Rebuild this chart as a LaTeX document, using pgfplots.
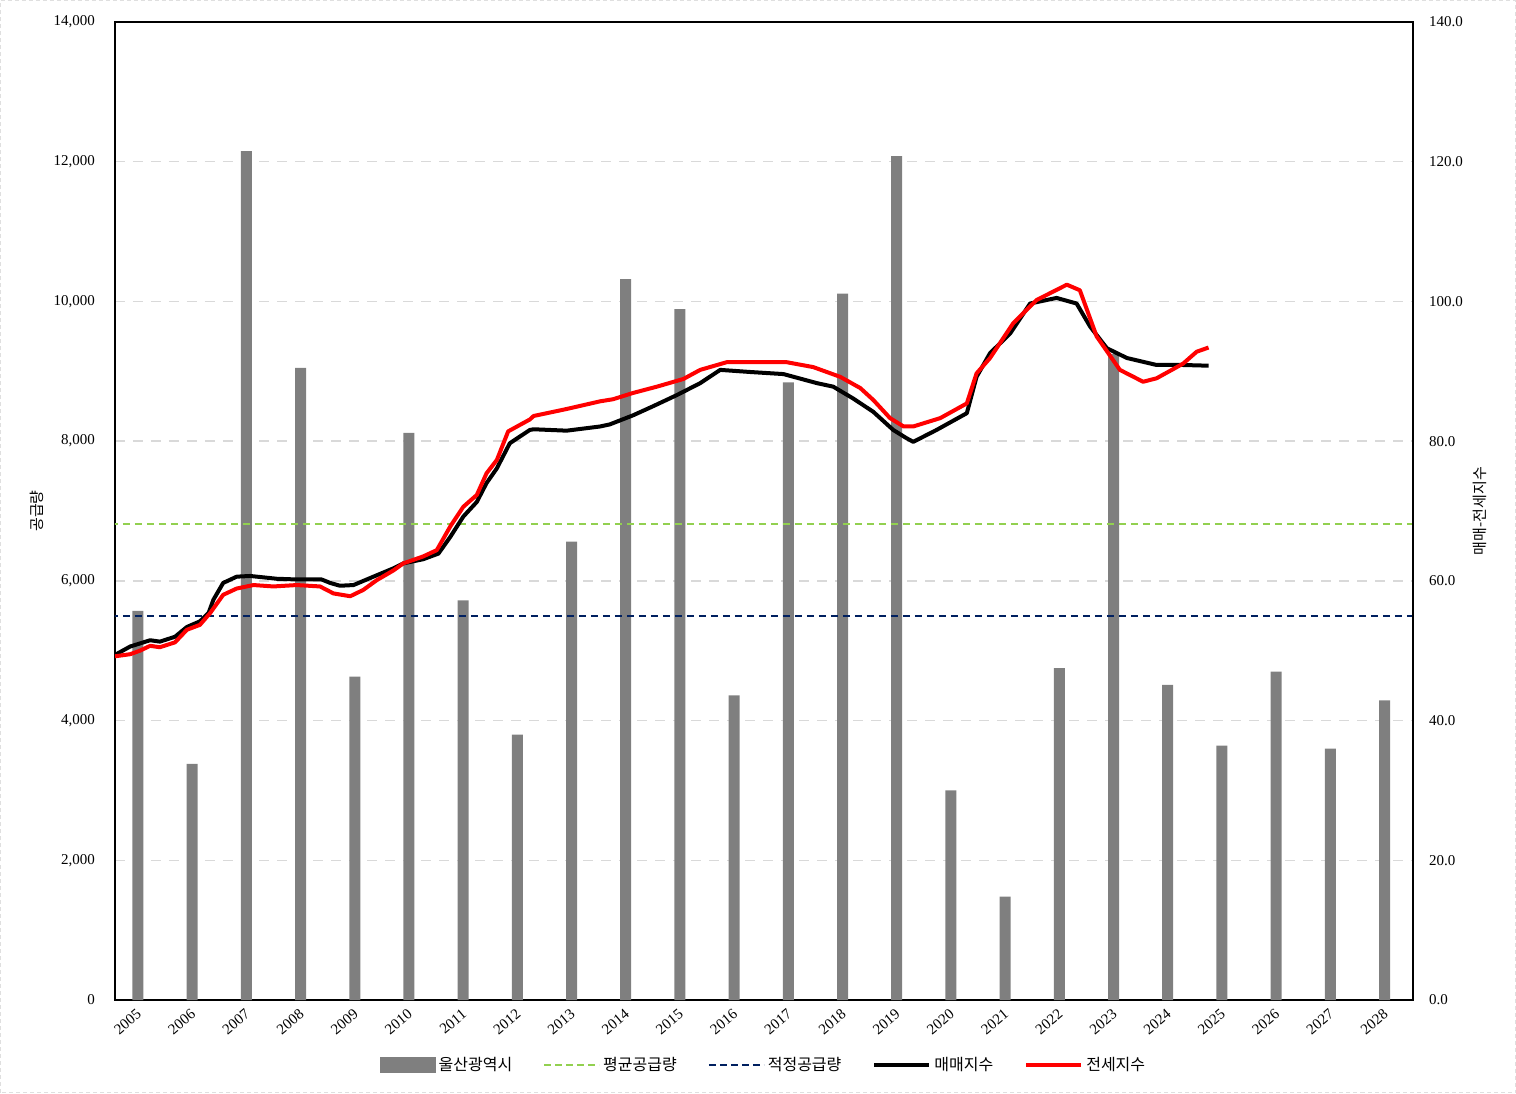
\documentclass[border=0pt]{standalone}
\usepackage{pgfplots}
\pgfplotsset{compat=1.18}
\usepackage{fontspec}
\setmainfont{Liberation Serif}
\newfontfamily\kr{Noto Sans CJK KR}
\definecolor{bargray}{HTML}{7F7F7F}
\definecolor{avggreen}{HTML}{92D050}
\definecolor{navyc}{HTML}{002060}
\definecolor{redc}{HTML}{FF0000}

\pgfplotstableread{
x y
0 5570
1 3380
2 12150
3 9050
4 4630
5 8120
6 5720
7 3800
8 6560
9 10320
10 9890
11 4360
12 8840
13 10110
14 12080
15 3000
16 1480
17 4750
18 9250
19 4510
20 3640
21 4700
22 3600
23 4290
}\supply

\pgfplotstableread{
x y
-0.50 49.4
-0.22 50.6
0.15 51.5
0.33 51.3
0.61 52.0
0.83 53.4
1.07 54.2
1.23 55.4
1.32 57.3
1.50 59.7
1.75 60.6
2.00 60.7
2.49 60.3
2.86 60.2
3.32 60.2
3.48 59.7
3.66 59.3
3.91 59.4
4.34 60.8
4.65 61.8
4.83 62.5
5.20 63.1
5.48 63.9
5.70 66.3
5.94 69.2
6.19 71.3
6.37 74.0
6.56 76.1
6.80 79.7
7.17 81.6
7.24 81.7
7.85 81.5
8.47 82.1
8.65 82.4
9.08 83.7
9.45 85.0
9.89 86.6
10.32 88.3
10.69 90.2
11.24 89.9
11.86 89.6
12.48 88.3
12.78 87.8
13.15 86.1
13.52 84.2
13.89 81.6
14.14 80.4
14.26 79.9
14.69 81.6
15.25 84.0
15.43 89.2
15.68 92.6
16.05 95.4
16.42 99.7
16.91 100.5
17.28 99.7
17.53 96.4
17.84 93.3
18.21 91.9
18.76 90.9
19.25 90.9
19.72 90.8
}\sale

\pgfplotstableread{
x y
-0.50 49.2
-0.22 49.5
-0.04 50.0
0.15 50.7
0.33 50.5
0.61 51.2
0.83 53.0
1.07 53.7
1.26 55.4
1.50 58.0
1.75 58.9
2.06 59.4
2.43 59.2
2.86 59.4
3.29 59.2
3.54 58.2
3.85 57.8
4.09 58.7
4.34 60.1
4.65 61.5
4.83 62.5
5.20 63.5
5.45 64.4
5.70 67.8
5.94 70.6
6.19 72.3
6.37 75.4
6.56 77.3
6.77 81.4
7.17 83.1
7.24 83.6
7.85 84.6
8.47 85.7
8.71 86.0
9.08 86.9
9.52 87.8
10.01 88.9
10.32 90.2
10.81 91.3
11.30 91.3
11.92 91.3
12.41 90.6
12.91 89.2
13.28 87.6
13.52 85.9
13.83 83.3
14.08 82.1
14.26 82.1
14.76 83.3
15.25 85.4
15.43 89.7
15.68 91.9
16.11 96.9
16.54 100.2
17.10 102.4
17.34 101.6
17.65 95.0
18.08 90.2
18.51 88.5
18.76 89.0
19.25 91.1
19.50 92.8
19.72 93.4
}\jeonse

\begin{document}
\begin{tikzpicture}
\pgfplotsset{
  common/.style={
    width=649pt, height=489pt, scale only axis,
    major tick length=0pt,
    axis line style={line width=1pt, black},
    tick label style={font=\fontsize{7.5}{9}\selectfont},
    /pgf/number format/assume math mode=true,
  },
}
\begin{axis}[common, name=ax,
  xmin=-0.424, xmax=23.526,
  ymin=0, ymax=14000,
  ytick={0,2000,...,14000},
  /pgf/number format/1000 sep={,},
  scaled y ticks=false,
  ymajorgrids,
  grid style={gray!30, line width=0.7pt, dash pattern=on 5pt off 4pt},
  xtick={0,...,23},
  xticklabels={2005,2006,2007,2008,2009,2010,2011,2012,2013,2014,2015,2016,2017,2018,2019,2020,2021,2022,2023,2024,2025,2026,2027,2028},
  x tick label style={rotate=40, anchor=north east, yshift=1pt},
  yticklabel style={xshift=-6.5pt},
  ylabel={\kr 공급량},
  ylabel style={at={(axis description cs:-0.06,0.5)}, anchor=center, rotate=0, font=\fontsize{7.5}{9}\selectfont},
]
\addplot[ybar, bar width=5.5pt, fill=bargray, draw=none, bar shift=0pt] table[x=x,y=y] {\supply};
\addplot[avggreen, line width=1pt, dash pattern=on 3.5pt off 2.5pt] coordinates {(-0.5,6810) (23.6,6810)};
\addplot[navyc, line width=1pt, dash pattern=on 3.5pt off 2.5pt] coordinates {(-0.5,5500) (23.6,5500)};
\end{axis}

\begin{axis}[common,
  xmin=-0.5, xmax=23.5,
  axis x line=none, axis y line*=right,
  ymin=0, ymax=140,
  ytick={0,20,...,140},
  yticklabel style={xshift=4.5pt, /pgf/number format/.cd, fixed, precision=1, zerofill},
  ylabel={\kr 매매-전세지수},
  ylabel style={at={(axis description cs:1.0516,0.5)}, anchor=center, rotate=0, font=\fontsize{7.5}{9}\selectfont},
  legend style={at={(0.5,-0.0665)}, anchor=center, draw=none, fill=none,
    legend columns=-1, font=\kr\fontsize{8}{10}\selectfont,
    /tikz/every even column/.append style={column sep=14pt},
    nodes={inner sep=1.5pt}},
  legend cell align=left,
  legend image code/.code={\draw[#1] (0pt,0pt) -- (27.5pt,0pt);},
]
\addlegendimage{legend image code/.code={\fill[bargray] (0pt,-3.75pt) rectangle (27.5pt,3.75pt);}}
\addlegendentry{울산광역시}
\addlegendimage{avggreen, line width=1pt, dash pattern=on 3.5pt off 2pt}
\addlegendentry{평균공급량}
\addlegendimage{navyc, line width=1pt, dash pattern=on 3.5pt off 2pt}
\addlegendentry{적정공급량}
\addplot[black, line width=2pt, line join=round] table[x=x,y=y] {\sale};
\addlegendentry{매매지수}
\addplot[redc, line width=2pt, line join=round] table[x=x,y=y] {\jeonse};
\addlegendentry{전세지수}
\end{axis}

\draw[gray!25, line width=0.5pt, dash pattern=on 2pt off 1.5pt, use as bounding box]
  ([shift={(-57.25pt,-46.25pt)}]ax.south west) rectangle ([shift={(51.25pt,10.75pt)}]ax.north east);
\end{tikzpicture}
\end{document}
